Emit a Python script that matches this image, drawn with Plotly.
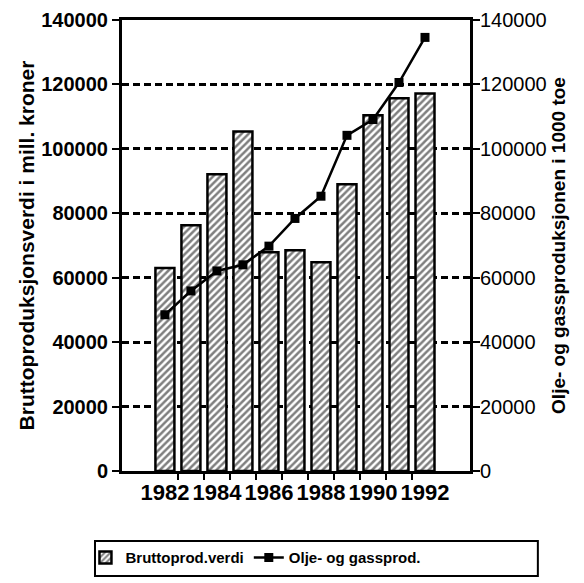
import plotly.graph_objects as go

# ---- data ----
years = [1982, 1983, 1984, 1985, 1986, 1987, 1988, 1989, 1990, 1991, 1992]
brutto_verdi = [63000, 76300, 92100, 105400, 67900, 68500, 64800, 89000, 110400, 115700, 117200]
olje_gass = [48500, 55900, 62100, 64000, 69800, 78400, 85300, 104200, 109100, 120600, 134600]
y_ticks = [0, 20000, 40000, 60000, 80000, 100000, 120000, 140000]
y_tick_text = [str(v) for v in y_ticks]
x_label_years = [1982, 1984, 1986, 1988, 1990, 1992]
x_tick_marks = [y + 0.5 for y in years[:-1]]

FONT = "Liberation Sans, Arial, sans-serif"

fig = go.Figure()

fig.add_trace(go.Bar(
    x=years, y=brutto_verdi, name="Bruttoprod.verdi",
    width=0.73,
    marker=dict(
        color="white",
        line=dict(color="black", width=2.5),
        pattern=dict(shape="/", fgcolor="black", bgcolor="white", size=5, solidity=0.5),
    ),
    yaxis="y",
))

fig.add_trace(go.Scatter(
    x=years, y=olje_gass, name="Olje- og gassprod.",
    mode="lines+markers",
    line=dict(color="black", width=2.5),
    marker=dict(symbol="square", size=9, color="black"),
    yaxis="y2",
))

fig.update_layout(
    width=576, height=575,
    margin=dict(l=114, r=114, t=12, b=112, autoexpand=False),
    paper_bgcolor="white", plot_bgcolor="white",
    showlegend=True,
    xaxis=dict(
        range=[1980.35, 1993.73], automargin=False,
        tickmode="array", tickvals=x_label_years,
        ticks="", showgrid=False, zeroline=False,
        showline=True, linecolor="black", linewidth=3, mirror=True,
        tickfont=dict(family=FONT, size=22, color="black", weight="bold"),
        ticklabelstandoff=0,
        minor=dict(tickmode="array", tickvals=x_tick_marks, ticks="outside",
                   ticklen=6, tickwidth=2, tickcolor="black", showgrid=False),
    ),
    yaxis=dict(
        range=[0, 140000], automargin=False, ticklabeloverflow="allow",
        tickmode="array", tickvals=y_ticks, ticktext=y_tick_text,
        ticks="outside", ticklen=7, tickwidth=2, tickcolor="black",
        showline=True, linecolor="black", linewidth=3,
        showgrid=True, gridcolor="black", gridwidth=2.5, griddash="7px,4px",
        zeroline=False,
        tickfont=dict(family=FONT, size=20, color="black", weight="bold"),
        ticklabelstandoff=0,
        title=dict(text="Bruttoproduksjonsverdi i mill. kroner",
                   font=dict(family=FONT, size=21, color="black", weight="bold"),
                   standoff=1),
    ),
    yaxis2=dict(
        range=[0, 140000], automargin=False, ticklabeloverflow="allow",
        tickmode="array", tickvals=y_ticks, ticktext=y_tick_text,
        overlaying="y", side="right",
        ticks="outside", ticklen=7, tickwidth=2, tickcolor="black",
        showline=True, linecolor="black", linewidth=3,
        showgrid=False, zeroline=False,
        tickfont=dict(family=FONT, size=20, color="black"), ticklabelstandoff=-4,
        title=dict(text="Olje- og gassproduksjonen i 1000 toe",
                   font=dict(family=FONT, size=19, color="black", weight="bold"),
                   standoff=6),
    ),
    legend=dict(
        orientation="h",
        x=-0.105, xanchor="left",
        y=-0.156, yanchor="top",
        font=dict(family=FONT, size=15, color="black", weight="bold"),
        bgcolor="rgba(0,0,0,0)", borderwidth=0,
    ),
    shapes=[dict(
        type="rect", xref="paper", yref="paper",
        x0=-0.0776, x1=1.195, y0=-0.155, y1=-0.233,
        line=dict(color="black", width=2), fillcolor="rgba(0,0,0,0)",
    )],
)

fig.write_html("out.html")
